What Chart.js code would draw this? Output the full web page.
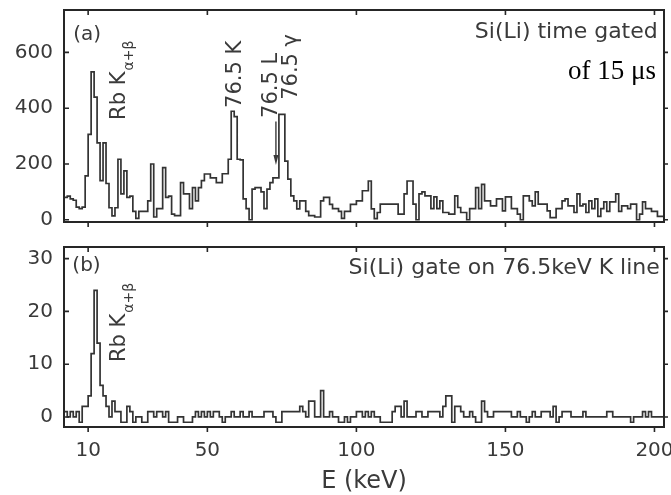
<!DOCTYPE html>
<html>
<head>
<meta charset="utf-8">
<script src="https://cdn.jsdelivr.net/npm/chart.js@4.4.1/dist/chart.umd.min.js"></script>
<style>
  html, body { margin: 0; padding: 0; background: #fff; }
  #wrap { position: relative; width: 671px; height: 495px; overflow: hidden; }
  canvas { position: absolute; left: 0; }
  #chartA { top: 0; }
  #chartB { top: 232px; }
</style>
</head>
<body>
<div id="wrap">
  <canvas id="chartA" width="671" height="232"></canvas>
  <canvas id="chartB" width="671" height="263"></canvas>
</div>
<script>
// histogram bins: 1 keV wide, first bin starts at 2 keV
const energyStart = 2;
const binWidth = 1;

// (a) Si(Li) time gated, counts per bin from 2 keV to 202 keV
const countsA = [
  80, 80, 85, 75, 70, 45, 40, 45, 157, 306,      // 2-11
  530, 440, 276, 140, 276, 130, 43, 14, 43, 217, // 12-21
  93, 175, 80, 85, 30, 5, 30, 30, 30, 68,        // 22-31
  200, 10, 40, 40, 187, 80, 85, 20, 15, 15,      // 32-41
  133, 93, 93, 40, 115, 68, 115, 140, 164, 164,  // 42-51
  150, 150, 133, 133, 165, 165, 217, 389, 370, 217, // 52-61
  215, 75, 40, 0, 110, 115, 115, 100, 40, 110,   // 62-71
  133, 150, 150, 378, 378, 210, 146, 86, 68, 39, // 72-81
  68, 68, 30, 15, 15, 10, 10, 68, 80, 80,        // 82-91
  55, 40, 40, 30, 5, 30, 30, 55, 55, 68,         // 92-101
  68, 104, 104, 139, 39, 4, 26, 56, 56, 56,      // 102-111
  56, 56, 56, 20, 20, 93, 139, 139, 56, 0,       // 112-121
  93, 100, 86, 86, 40, 82, 40, 68, 26, 26,       // 122-131
  20, 20, 86, 44, 26, 26, 0, 40, 40, 115,        // 132-141
  40, 127, 68, 68, 50, 50, 75, 75, 32, 82,       // 142-151
  82, 40, 40, 20, 0, 86, 86, 68, 50, 100,        // 152-161
  56, 56, 56, 32, 8, 8, 40, 40, 68, 75,          // 162-171
  50, 50, 26, 93, 50, 56, 26, 68, 40, 75,        // 172-181
  12, 40, 64, 30, 64, 64, 93, 30, 50, 50,        // 182-191
  40, 56, 56, 0, 20, 64, 40, 40, 30, 30,         // 192-201
  12                                             // 202
];

// (b) Si(Li) gate on 76.5 keV K line
const countsB = [
  1, 1, 0, 1, 0, 1, -1, 2, 2, 4,       // 2-11
  12, 24, 14, 6, 4, 2, 0, 3, 1, 1,     // 12-21
  -1, -1, 2, 1, -1, 0, 0, -1, -1, 1,   // 22-31
  1, 0, 1, 1, 0, 1, -1, -1, -1, 0,     // 32-41
  0, -1, -1, -1, 0, 1, 0, 1, 0, 1,     // 42-51
  0, 1, 1, 0, -1, 0, 0, 1, 0, 0,       // 52-61
  1, 0, 0, 1, 0, 0, 0, 0, 1, 1,        // 62-71
  1, 0, -1, -1, 1, 1, 1, 1, 1, 1,      // 72-81
  2, 1, 0, 3, 3, 0, 0, 5, 0, 0,        // 82-91
  1, 0, 0, -1, -1, 0, -1, 0, 0, 1,     // 92-101
  1, 0, 1, 0, 1, 0, 0, -1, -1, -1,     // 102-111
  -1, 1, 2, 2, 0, 3, 0, 0, 0, 1,       // 112-121
  1, 0, 0, 1, 1, 1, 1, 0, 2, 4,        // 122-131
  4, -1, 2, 2, 1, 0, 0, 1, 0, -1,      // 132-141
  -1, 3, 1, 0, 0, 1, 1, 1, 1, 1,       // 142-151
  1, 0, 0, 1, 0, 0, -1, 0, 1, 0,       // 152-161
  0, 1, 1, 1, 0, 2, -1, 0, 1, 1,       // 162-171
  1, 0, 0, 0, 0, 1, 0, 0, 0, 0,        // 172-181
  0, 0, 0, 1, 1, 0, 0, 0, 0, 0,        // 182-191
  0, -1, 0, 0, 0, 1, 0, 1, 0, 0,       // 192-201
  0                                    // 202
];

const xTicks = [10, 50, 100, 150, 200];
const yTicksA = [0, 200, 400, 600];
const yTicksB = [0, 10, 20, 30];

const SANS = '"DejaVu Sans", sans-serif';
const GREY = '#3a3a3a';

// bin edges -> points for a stepped line (last point closes the final bin)
function histPoints(counts) {
  const pts = counts.map((v, i) => ({ x: energyStart + i * binWidth, y: v }));
  pts.push({ x: energyStart + counts.length * binWidth, y: counts[counts.length - 1] });
  return pts;
}

// box around plot area, ticks like the original (all pointing right / down)
const framePlugin = {
  id: 'frame',
  afterDraw(chart) {
    const { ctx, chartArea: a, scales } = chart;
    ctx.save();
    ctx.strokeStyle = '#262626';
    ctx.lineWidth = 2;
    ctx.strokeRect(a.left, a.top, a.right - a.left, a.bottom - a.top);
    ctx.lineWidth = 1.6;
    ctx.beginPath();
    scales.x.ticks.forEach(t => {
      const px = scales.x.getPixelForValue(t.value);
      ctx.moveTo(px, a.top); ctx.lineTo(px, a.top + 5);
      ctx.moveTo(px, a.bottom); ctx.lineTo(px, a.bottom + 5);
    });
    scales.y.ticks.forEach(t => {
      const py = scales.y.getPixelForValue(t.value);
      ctx.moveTo(a.left, py); ctx.lineTo(a.left + 5, py);
      ctx.moveTo(a.right, py); ctx.lineTo(a.right + 4, py);
    });
    ctx.stroke();
    ctx.restore();
  }
};

// text labels and the arrow, placed in data coordinates
function notesPlugin(notes) {
  return {
    id: 'notes',
    afterDatasetsDraw(chart) {
      const { ctx, scales: { x, y } } = chart;
      notes.forEach(n => {
        ctx.save();
        ctx.fillStyle = n.color || GREY;
        ctx.strokeStyle = n.color || GREY;
        if (n.arrow) {
          const px = x.getPixelForValue(n.x);
          const y1 = y.getPixelForValue(n.y1);
          const y2 = y.getPixelForValue(n.y2);
          ctx.lineWidth = 1.4;
          ctx.beginPath();
          ctx.moveTo(px, y1); ctx.lineTo(px, y2 - 8);
          ctx.stroke();
          ctx.beginPath();
          ctx.moveTo(px - 2.5, y2 - 10); ctx.lineTo(px + 2.5, y2 - 10); ctx.lineTo(px, y2);
          ctx.closePath();
          ctx.fill();
          ctx.restore();
          return;
        }
        ctx.translate(x.getPixelForValue(n.x), y.getPixelForValue(n.y));
        if (n.rotate) ctx.rotate(-Math.PI / 2);
        ctx.font = n.font;
        ctx.textBaseline = 'middle';
        ctx.textAlign = n.align || 'left';
        ctx.fillText(n.text, 0, 0);
        if (n.sub) {
          const w = ctx.measureText(n.text).width;
          ctx.font = n.subFont;
          ctx.fillText(n.sub, w + 1, 9);
        }
        ctx.restore();
      });
    }
  };
}

function xScale(showLabels, height) {
  return {
    type: 'linear', min: 1.9, max: 203.2,
    grid: { display: false, drawTicks: false },
    border: { display: false },
    ticks: { display: showLabels, color: GREY, font: { family: SANS, size: 20 }, padding: 12, maxRotation: 0 },
    title: showLabels
      ? { display: true, text: 'E (keV)', color: GREY, font: { family: SANS, size: 24, lineHeight: 1.1 }, padding: { top: 0, bottom: 0 } }
      : { display: false },
    afterBuildTicks: s => { s.ticks = xTicks.map(v => ({ value: v })); },
    afterFit: s => { s.height = height; s.paddingLeft = 0; s.paddingRight = 0; }
  };
}

function yScale(min, max, ticks) {
  return {
    min: min, max: max,
    grid: { display: false, drawTicks: false },
    border: { display: false },
    ticks: { color: GREY, font: { family: SANS, size: 20 }, padding: 11 },
    afterBuildTicks: s => { s.ticks = ticks.map(v => ({ value: v })); },
    afterFit: s => { s.width = 64; s.paddingTop = 0; s.paddingBottom = 0; }
  };
}

function histDataset(counts) {
  return {
    data: histPoints(counts),
    stepped: 'after',
    borderColor: '#333333',
    borderWidth: 1.7,
    pointRadius: 0,
    fill: false
  };
}

const notesA = [
  { x: 5.0, y: 663, text: '(a)', font: '20px ' + SANS },
  { x: 20.7, y: 358, text: 'Rb K', rotate: true, font: '21px ' + SANS, sub: 'α+β', subFont: '14px ' + SANS },
  { x: 59.6, y: 401, text: '76.5 K', rotate: true, font: '21px ' + SANS },
  { x: 71.4, y: 365, text: '76.5 L', rotate: true, font: '21px ' + SANS },
  { x: 78.4, y: 430, text: '76.5 γ', rotate: true, font: '21px ' + SANS },
  { arrow: true, x: 73.0, y1: 352, y2: 196 },
  { x: 201.1, y: 673, text: 'Si(Li) time gated', align: 'right', font: '22px ' + SANS },
  { x: 200.5, y: 530, text: 'of 15 μs', align: 'right', color: '#000', font: '27px "Liberation Serif", "Times New Roman", serif' }
];

const notesB = [
  { x: 4.7, y: 28.6, text: '(b)', font: '20px ' + SANS },
  { x: 20.7, y: 10.4, text: 'Rb K', rotate: true, font: '21px ' + SANS, sub: 'α+β', subFont: '14px ' + SANS },
  { x: 201.8, y: 28.2, text: 'Si(Li) gate on 76.5keV K line', align: 'right', font: '22px ' + SANS }
];

function makeChart(id, counts, yMin, yMax, yTicks, padTop, xHeight, showX, notes) {
  return new Chart(document.getElementById(id), {
    type: 'line',
    data: { datasets: [histDataset(counts)] },
    options: {
      responsive: false,
      animation: false,
      devicePixelRatio: 1,
      layout: { padding: { top: padTop, right: 7, bottom: 0, left: 0 } },
      plugins: { legend: { display: false }, tooltip: { enabled: false } },
      scales: { x: xScale(showX, xHeight), y: yScale(yMin, yMax, yTicks) }
    },
    plugins: [framePlugin, notesPlugin(notes)]
  });
}

makeChart('chartA', countsA, -8, 752, yTicksA, 10, 10, false, notesA);
makeChart('chartB', countsB, -1.9, 32.2, yTicksB, 15, 68, true, notesB);
</script>
</body>
</html>
